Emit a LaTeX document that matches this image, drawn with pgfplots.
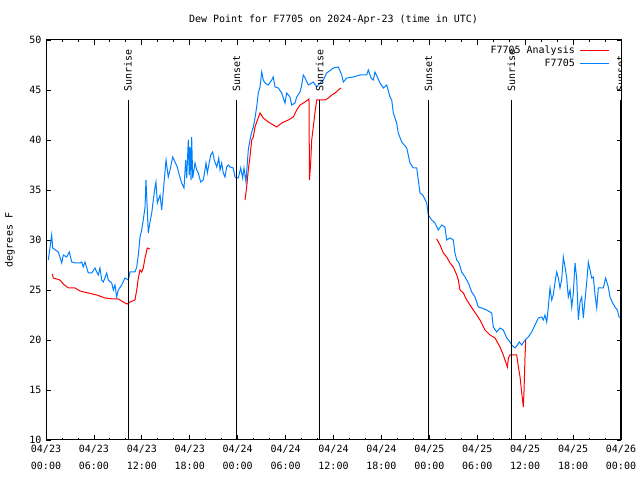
\documentclass[border=0pt]{standalone}
\usepackage{pgfplots}
\pgfplotsset{compat=1.18}
\usepackage{fontspec}
\newfontfamily\gp{DejaVu Sans Mono}
\definecolor{gpred}{RGB}{255,0,0}
\definecolor{gpblue}{RGB}{0,128,255}
\begin{document}
\begin{tikzpicture}
\path[use as bounding box] (0,0) rectangle (640bp,480bp);
\begin{axis}[
  at={(46bp,40bp)}, anchor=south west,
  width=575bp, height=400bp, scale only axis,
  xmin=0, xmax=72, ymin=10, ymax=50,
  xtick={0,6,...,72},
  minor xtick={2,4,8,10,14,16,20,22,26,28,32,34,38,40,44,46,50,52,56,58,62,64,68,70},
  xticklabels={{04/23\\[5bp]00:00},{04/23\\[5bp]06:00},{04/23\\[5bp]12:00},{04/23\\[5bp]18:00},{04/24\\[5bp]00:00},{04/24\\[5bp]06:00},{04/24\\[5bp]12:00},{04/24\\[5bp]18:00},{04/25\\[5bp]00:00},{04/25\\[5bp]06:00},{04/25\\[5bp]12:00},{04/25\\[5bp]18:00},{04/26\\[5bp]00:00}},
  ytick={10,15,...,50},
  tick align=inside,
  major tick length=4.5bp, minor tick length=2.2bp,
  tick style={black, line width=0.8bp},
  axis line style={black, line width=1bp},
  /pgf/number format/assume math mode=true,
  ticklabel style={font=\gp\fontsize{10bp}{12bp}\selectfont},
  xticklabel style={align=center, yshift=-2bp},
  yticklabel style={xshift=-1bp},
  title={Dew Point for F7705 on 2024-Apr-23 (time in UTC)},
  title style={font=\gp\fontsize{10bp}{12bp}\selectfont, yshift=6bp},
  ylabel={degrees F},
  ylabel style={font=\gp\fontsize{10bp}{12bp}\selectfont, at={(axis description cs:-0.0626,0.5)}, anchor=center},
  unbounded coords=jump,
  legend style={draw=none, fill=none, anchor=north east, at={(axis description cs:1,1)}, xshift=-8bp, yshift=-2bp,
    font=\gp\fontsize{10bp}{12bp}\selectfont, row sep=0bp, legend cell align=right, legend plot pos=right,
    /tikz/every odd column/.append style={column sep=3bp}},
  legend image code/.code={\draw[#1] (0bp,0bp) -- (29bp,0bp);},
]
\addplot[gpred, line width=1bp] table {
x y
0.79 26.6
0.91 26.2
1.34 26.1
1.75 26.0
2.17 25.6
2.79 25.2
3.63 25.2
4.26 24.9
5.30 24.7
6.35 24.5
7.39 24.2
8.43 24.1
9.05 24.1
9.48 23.9
9.89 23.7
10.14 23.6
10.52 23.8
11.14 24.0
11.36 25.0
11.56 26.2
11.77 27.0
11.98 26.8
12.18 27.2
12.40 28.2
12.68 29.2
13.02 29.1
18.0 nan
24.92 34.0
25.13 35.3
25.33 37.0
25.54 38.3
25.76 40.0
25.96 40.3
26.17 41.3
26.38 41.8
26.80 42.7
27.21 42.2
27.84 41.8
28.89 41.3
29.51 41.7
30.34 42.0
30.97 42.3
31.39 43.0
31.81 43.5
32.43 43.8
32.93 44.1
32.99 36.0
33.14 37.7
33.27 40.0
33.47 41.3
33.69 42.8
33.90 44.0
34.31 44.0
34.94 44.0
35.35 44.2
35.78 44.5
36.19 44.7
36.60 45.0
36.94 45.2
42.0 nan
48.92 30.1
49.34 29.5
49.75 28.7
50.17 28.3
50.59 27.7
51.00 27.3
51.43 26.5
51.63 26.0
51.84 25.0
52.26 24.7
52.68 24.0
53.09 23.5
53.51 23.0
53.93 22.5
54.34 22.0
54.97 21.0
55.60 20.5
56.22 20.2
56.85 19.3
57.26 18.5
57.69 17.5
57.77 17.3
57.90 18.2
58.10 18.5
58.94 18.5
59.15 17.3
59.36 16.3
59.57 14.7
59.77 13.3
59.86 15.0
59.98 18.3
60.07 20.0
};
\addlegendentry{F7705 Analysis}
\addplot[gpblue, line width=1bp] table {
x y
0.29 28.0
0.71 30.5
0.84 29.2
1.54 28.8
1.97 27.7
2.17 28.5
2.59 28.3
2.92 28.8
3.22 27.8
3.63 27.7
4.26 27.7
4.47 27.8
4.67 27.3
4.88 27.8
5.30 26.7
5.72 26.7
6.14 27.2
6.35 26.8
6.55 26.5
6.76 27.2
6.97 26.0
7.18 25.8
7.60 26.7
7.80 26.0
8.23 25.7
8.43 25.0
8.64 25.5
8.85 24.3
9.05 25.0
9.48 25.5
9.89 26.2
10.31 26.0
10.52 26.8
11.14 26.8
11.36 27.3
11.56 28.5
11.77 30.3
11.98 31.0
12.18 32.0
12.40 33.3
12.52 36.0
12.81 30.7
13.02 31.8
13.24 32.7
13.44 34.0
13.65 35.3
13.77 35.8
13.94 33.7
14.28 34.5
14.49 33.0
14.81 36.0
15.03 38.0
15.31 36.3
15.53 37.0
15.87 38.3
16.15 37.8
16.44 37.3
16.69 36.5
16.99 35.7
17.28 35.2
17.49 38.0
17.62 36.2
17.82 40.0
17.94 36.5
18.03 39.3
18.16 36.0
18.24 40.3
18.37 36.2
18.66 37.7
18.87 37.0
19.07 36.7
19.37 35.8
19.70 36.0
20.04 37.7
20.20 36.7
20.62 38.5
20.87 38.8
21.07 38.0
21.38 37.3
21.63 38.2
21.79 37.0
22.00 37.7
22.20 36.7
22.41 36.3
22.63 37.3
22.83 37.5
23.04 37.3
23.45 37.2
23.67 36.3
23.88 36.2
24.08 36.2
24.38 37.2
24.63 36.2
24.79 37.2
25.04 35.8
25.21 37.7
25.33 39.0
25.54 40.0
25.76 40.8
25.96 41.3
26.17 42.2
26.38 43.3
26.58 44.7
26.80 45.3
27.01 46.8
27.21 46.0
27.42 45.7
27.84 45.5
28.26 46.0
28.46 46.3
28.68 45.3
29.09 45.2
29.51 44.7
29.93 43.7
30.14 44.7
30.55 44.3
30.77 43.5
31.18 43.7
31.39 44.3
31.81 44.8
32.02 45.5
32.22 46.5
32.43 46.2
32.85 45.5
33.27 45.7
33.47 45.8
33.90 45.3
34.31 45.7
34.72 46.0
35.15 46.7
35.98 47.2
36.60 47.3
37.03 46.5
37.23 45.8
37.65 46.2
38.48 46.3
39.32 46.5
40.16 46.5
40.36 47.0
40.70 46.2
40.98 46.0
41.20 46.8
41.82 45.7
42.24 45.2
42.66 45.5
43.08 44.3
43.29 44.0
43.49 42.7
43.91 41.7
44.11 40.7
44.54 39.8
45.17 39.2
45.58 37.7
46.00 37.2
46.42 37.2
46.83 34.7
47.17 34.5
47.67 33.7
47.87 32.5
48.30 32.0
48.71 31.7
49.12 31.0
49.55 31.5
49.96 31.3
50.17 30.0
50.59 30.2
51.00 30.0
51.21 28.7
51.43 28.0
51.72 27.7
52.05 26.8
52.47 26.3
52.88 25.7
53.31 24.8
53.72 24.3
54.13 23.3
54.56 23.2
55.18 23.0
55.81 22.7
56.01 21.3
56.44 20.8
56.85 21.2
57.26 21.0
57.69 20.2
58.10 19.8
58.31 19.5
58.73 19.2
59.02 19.5
59.27 19.8
59.57 19.5
59.98 20.0
60.39 20.3
60.82 20.8
61.23 21.5
61.65 22.2
62.07 22.3
62.27 22.0
62.48 22.5
62.70 21.8
62.90 23.3
63.11 25.2
63.32 24.0
63.52 24.5
63.74 25.8
63.95 26.8
64.15 26.2
64.36 25.2
64.57 26.0
64.78 28.3
64.99 27.3
65.20 26.2
65.40 24.3
65.62 25.0
65.83 23.3
66.03 24.7
66.24 27.7
66.45 26.2
66.66 22.0
66.87 23.8
67.08 24.3
67.28 22.2
67.49 24.0
67.70 25.7
67.91 27.8
68.12 27.0
68.33 26.2
68.53 26.3
68.75 24.5
68.96 23.2
69.16 25.2
69.79 25.2
70.08 26.2
70.41 25.3
70.62 24.3
70.96 23.7
71.25 23.3
71.54 23.0
71.79 22.2
};
\addlegendentry{F7705}
\addplot[black, line width=1bp, forget plot] coordinates {(10.27,10) (10.27,44)};
\addplot[black, line width=1bp, forget plot] coordinates {(23.85,10) (23.85,44)};
\addplot[black, line width=1bp, forget plot] coordinates {(34.25,10) (34.25,44)};
\addplot[black, line width=1bp, forget plot] coordinates {(47.9,10) (47.9,44)};
\addplot[black, line width=1bp, forget plot] coordinates {(58.29,10) (58.29,44)};
\addplot[black, line width=1bp, forget plot] coordinates {(71.94,10) (71.94,44)};
\node[rotate=90, anchor=west, inner sep=0pt, font=\gp\fontsize{10bp}{12bp}\selectfont] at (axis cs:10.27,44.85) {Sunrise};
\node[rotate=90, anchor=west, inner sep=0pt, font=\gp\fontsize{10bp}{12bp}\selectfont] at (axis cs:23.85,44.85) {Sunset};
\node[rotate=90, anchor=west, inner sep=0pt, font=\gp\fontsize{10bp}{12bp}\selectfont] at (axis cs:34.25,44.85) {Sunrise};
\node[rotate=90, anchor=west, inner sep=0pt, font=\gp\fontsize{10bp}{12bp}\selectfont] at (axis cs:47.9,44.85) {Sunset};
\node[rotate=90, anchor=west, inner sep=0pt, font=\gp\fontsize{10bp}{12bp}\selectfont] at (axis cs:58.29,44.85) {Sunrise};
\node[rotate=90, anchor=west, inner sep=0pt, font=\gp\fontsize{10bp}{12bp}\selectfont] at (axis cs:71.94,44.85) {Sunset};
\end{axis}
\end{tikzpicture}
\end{document}
